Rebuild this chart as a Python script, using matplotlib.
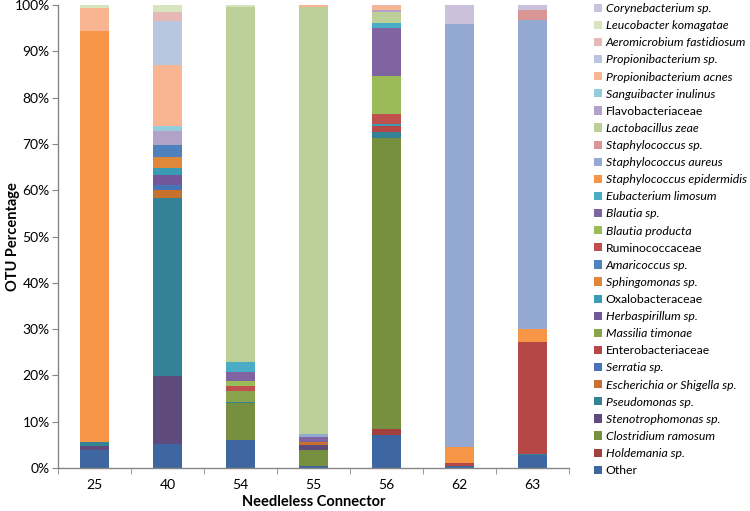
#!/usr/bin/env python3
"""
OTU composition of needleless connectors
Stacked percentage bars, one per connector
"""

import numpy as np
import matplotlib
matplotlib.use('Agg')
import matplotlib.pyplot as plt

plt.rcParams['font.family'] = ['Lato', 'DejaVu Sans']

connectors = ['25', '40', '54', '55', '56', '62', '63']

# taxa listed bottom of stack -> top of stack
taxa = [
    'Other', 'Holdemania sp.', 'Clostridium ramosum', 'Stenotrophomonas sp.',
    'Pseudomonas sp.', 'Escherichia or Shigella sp.', 'Serratia sp.',
    'Enterobacteriaceae', 'Massilia timonae', 'Herbaspirillum sp.',
    'Oxalobacteraceae', 'Sphingomonas sp.', 'Amaricoccus sp.',
    'Ruminococcaceae', 'Blautia producta', 'Blautia sp.', 'Eubacterium limosum',
    'Staphylococcus epidermidis', 'Staphylococcus aureus', 'Staphylococcus sp.',
    'Lactobacillus zeae', 'Flavobacteriaceae', 'Sanguibacter inulinus',
    'Propionibacterium acnes', 'Propionibacterium sp.', 'Aeromicrobium fastidiosum',
    'Leucobacter komagatae', 'Corynebacterium sp.',
]

# family names are shown upright, species in italics
upright = {'Other', 'Enterobacteriaceae', 'Oxalobacteraceae',
           'Ruminococcaceae', 'Flavobacteriaceae'}

colors = [
    '#3e66a0', '#a33f3f', '#77903f', '#5f4a7c',
    '#358297', '#c8702e', '#4674b4',
    '#b54746', '#8aa44e', '#73579b',
    '#3a9bb5', '#e0883a', '#4f81bd',
    '#c0504d', '#9bbb59', '#8064a2', '#4bacc6',
    '#f79646', '#93a9d2', '#d99694',
    '#bccf98', '#b2a2c7', '#93cddd',
    '#f9b592', '#b9c6e0', '#e6b9b8',
    '#d7e4bd', '#ccc1da',
]

# percentages per connector (25, 40, 54, 55, 56, 62, 63)
other          = [4.0, 5.1, 6.1, 0.5, 7.1, 0.5, 2.8]
holdemania     = [0, 0, 0, 0, 1.3, 0, 0]
clostridium    = [0, 0, 7.9, 3.5, 62.8, 0, 0]
stenotroph     = [0.7, 14.8, 0, 0.9, 0, 0, 0]
pseudomonas    = [0.9, 38.5, 0.35, 0, 1.3, 0, 0.2]
escherichia    = [0, 1.6, 0, 0.7, 0, 0, 0]
serratia       = [0, 1.1, 0, 0, 0, 0, 0]
enterobact     = [0, 0, 0, 0, 1.4, 0.6, 24.3]
massilia       = [0, 0, 2.2, 0, 0, 0, 0]
herbaspir      = [0, 2.2, 0, 0, 0, 0, 0]
oxalobact      = [0, 1.6, 0, 0, 0.4, 0, 0]
sphingomonas   = [0, 2.2, 0, 0, 0, 0, 0]
amaricoccus    = [0, 2.6, 0, 0, 0, 0, 0]
ruminococc     = [0, 0, 1.2, 0, 2.2, 0, 0]
blautia_prod   = [0, 0, 1.1, 0, 8.1, 0, 0]
blautia_sp     = [0, 0, 1.8, 1.1, 10.4, 0, 0]
eubacterium    = [0, 0, 2.3, 0, 1.1, 0, 0]
staph_epi      = [88.8, 0, 0, 0, 0, 3.4, 2.7]
staph_aureus   = [0, 0, 0, 0.6, 0, 91.4, 66.8]
staph_sp       = [0, 0, 0, 0, 0, 0, 2.1]
lactobacillus  = [0, 0, 76.6, 92.2, 2.5, 0, 0]
flavobact      = [0, 3.0, 0, 0, 0.4, 0, 0]
sanguibacter   = [0, 1.2, 0, 0, 0, 0, 0]
prop_acnes     = [5.0, 13.2, 0, 0.5, 0.9, 0, 0]
prop_sp        = [0, 9.4, 0, 0, 0, 0, 0]
aeromicrobium  = [0, 1.9, 0, 0, 0.2, 0, 0]
leucobacter    = [0.6, 1.7, 0.4, 0, 0, 0, 0]
corynebact     = [0, 0, 0, 0, 0, 4.1, 1.1]

series = [
    other, holdemania, clostridium, stenotroph, pseudomonas, escherichia,
    serratia, enterobact, massilia, herbaspir, oxalobact, sphingomonas,
    amaricoccus, ruminococc, blautia_prod, blautia_sp, eubacterium,
    staph_epi, staph_aureus, staph_sp, lactobacillus, flavobact,
    sanguibacter, prop_acnes, prop_sp, aeromicrobium, leucobacter, corynebact,
]


def main():
    fig = plt.figure(figsize=(7.5, 5.11), dpi=100)
    ax = fig.add_axes([0.0773, 0.0841, 0.6814, 0.906])

    x = np.arange(len(connectors))
    bottom = np.zeros(len(connectors))
    handles = []
    for name, vals, col in zip(taxa, series, colors):
        vals = np.array(vals, dtype=float)
        b = ax.bar(x, vals, width=0.40, bottom=bottom, color=col,
                   edgecolor='none', label=name)
        handles.append(b)
        bottom += vals

    ax.set_xlim(-0.5, len(connectors) - 0.5)
    ax.set_ylim(0, 100)
    ax.set_yticks(np.arange(0, 101, 10))
    ax.set_yticklabels([f'{v}%' for v in range(0, 101, 10)])
    ax.set_xticks(x)
    ax.set_xticklabels(connectors)
    ax.set_xticks(np.arange(-0.5, len(connectors), 1.0), minor=True)
    ax.tick_params(axis='x', which='major', length=0, pad=8, labelsize=10)
    ax.tick_params(axis='x', which='minor', length=4, color='#868686', direction='out')
    ax.tick_params(axis='y', length=4, color='#868686', labelsize=10, pad=2)

    for side in ['top', 'right']:
        ax.spines[side].set_visible(False)
    for side in ['left', 'bottom']:
        ax.spines[side].set_color('#868686')
        ax.spines[side].set_linewidth(1.0)

    ax.set_ylabel('OTU Percentage', fontsize=10.5, fontweight='bold')
    ax.yaxis.set_label_coords(-0.074, 0.5)
    ax.set_xlabel('Needleless Connector', fontsize=10.5, fontweight='bold', labelpad=3)

    leg = fig.legend(handles[::-1], taxa[::-1], loc='upper left',
                     bbox_to_anchor=(0.792, 0.994), frameon=False, fontsize=8.8,
                     handlelength=0.65, handleheight=0.65, handletextpad=0.3,
                     labelspacing=0.5, borderaxespad=0, borderpad=0)
    for txt in leg.get_texts():
        if txt.get_text() not in upright:
            txt.set_fontstyle('italic')

    fig.savefig('out.png', dpi=100)


if __name__ == "__main__":
    main()
